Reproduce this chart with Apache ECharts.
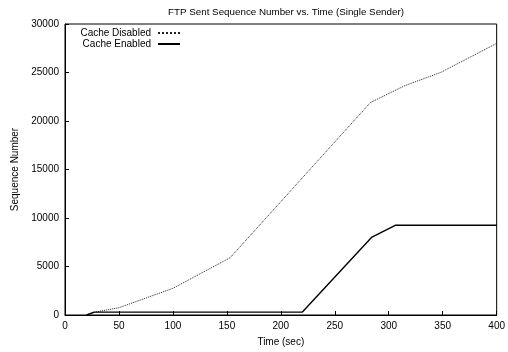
<!DOCTYPE html>
<html>
<head>
<meta charset="utf-8">
<script src="https://cdn.jsdelivr.net/npm/echarts@6/dist/echarts.min.js"></script>
<style>html,body{margin:0;padding:0;background:#fff;}#c{width:508px;height:352px;}</style>
</head>
<body>
<div id="c"></div>
<script>
var titleText = 'FTP Sent Sequence Number vs. Time (Single Sender)';
var xName = 'Time (sec)';
var yName = 'Sequence Number';
var seriesNames = ['Cache Disabled', 'Cache Enabled'];
var disabledX = [20, 28, 50, 75, 100, 153, 283, 315, 348, 400];
var disabledY = [0, 300, 750, 1750, 2750, 5900, 21900, 23650, 25000, 28000];
var enabledX = [20, 27, 220, 284, 306, 400];
var enabledY = [0, 300, 300, 8000, 9250, 9250];

function pairs(xs, ys) { return xs.map(function (x, i) { return [x, ys[i]]; }); }

var FONT = 'Liberation Sans';
var legendBase = {
  orient: 'vertical', right: 327, align: 'right',
  itemWidth: 22, itemHeight: 10, itemGap: 0, padding: 0,
  itemStyle: {opacity: 0},
  textStyle: {fontFamily: FONT, fontSize: 10, color: '#000', padding: [0, 2, 0, 0]}
};
var chart = echarts.init(document.getElementById('c'), null, {renderer: 'canvas'});
chart.setOption({
  animation: false,
  backgroundColor: '#fff',
  title: {
    text: titleText, left: 281, top: 2, textAlign: 'center',
    textStyle: {fontFamily: FONT, fontSize: 9.8, fontWeight: 'normal', color: '#000'}
  },
  legend: [
    Object.assign({}, legendBase, {data: [seriesNames[0]], top: 28}),
    Object.assign({}, legendBase, {data: [seriesNames[1]], top: 39})
  ],
  grid: {left: 65, right: 11, top: 24, bottom: 35, show: true, borderColor: '#000', borderWidth: 1},
  xAxis: {
    type: 'value', min: 0, max: 400, interval: 50,
    name: xName, nameLocation: 'middle', nameGap: 22,
    nameTextStyle: {fontFamily: FONT, fontSize: 10, color: '#000'},
    axisLine: {lineStyle: {color: '#000', width: 1}},
    axisTick: {inside: true, length: 4, lineStyle: {color: '#000'}},
    axisLabel: {fontFamily: FONT, fontSize: 10, color: '#000', margin: 6},
    splitLine: {show: false}
  },
  yAxis: {
    type: 'value', min: 0, max: 30000, interval: 5000,
    name: yName, nameLocation: 'middle', nameGap: 33,
    nameTextStyle: {fontFamily: FONT, fontSize: 10, color: '#000'},
    axisLine: {show: true, lineStyle: {color: '#000', width: 1}},
    axisTick: {show: true, inside: true, length: 4, lineStyle: {color: '#000'}},
    axisLabel: {fontFamily: FONT, fontSize: 10, color: '#000', margin: 6,
                formatter: function (v) { return String(v); }},
    splitLine: {show: false}
  },
  series: [
    {name: seriesNames[0], type: 'line', data: pairs(disabledX, disabledY), showSymbol: false, symbol: 'none',
     lineStyle: {color: '#222', width: 1, type: 'dotted'}, itemStyle: {color: '#222'}},
    {name: seriesNames[1], type: 'line', data: pairs(enabledX, enabledY), showSymbol: false, symbol: 'none',
     lineStyle: {color: '#000', width: 1.4}, itemStyle: {color: '#000'}}
  ]
});
</script>
</body>
</html>
